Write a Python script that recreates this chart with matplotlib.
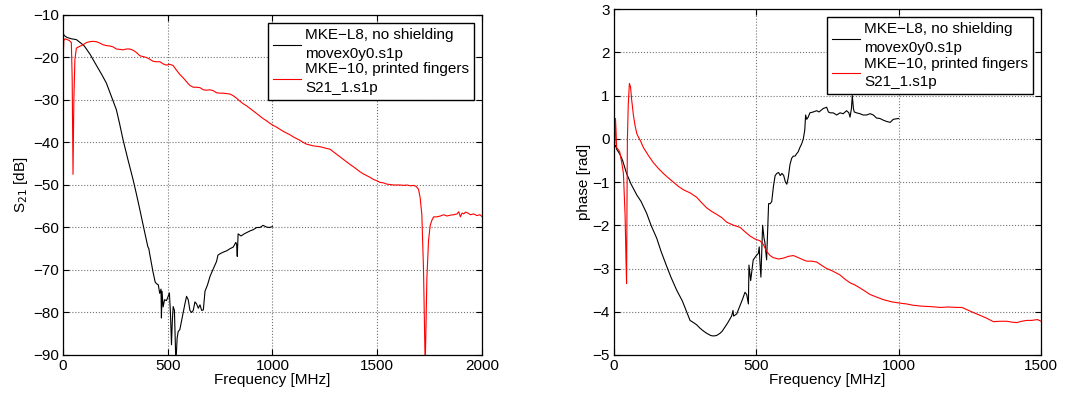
import numpy as np
import matplotlib
matplotlib.use("Agg")
import matplotlib.pyplot as plt

plt.rcParams['font.family'] = ['Liberation Sans', 'DejaVu Sans']
plt.rcParams['xtick.direction'] = 'in'
plt.rcParams['ytick.direction'] = 'in'

# legend labels
label_l8 = "MKE\u2212L8, no shielding\nmovex0y0.s1p"
label_10 = "MKE\u221210, printed fingers\nS21_1.s1p"

# S21 magnitude, MKE-L8 (black)
mag_l8_f = [0, 5, 20, 40, 64, 80, 100, 112, 130, 159, 185, 207, 230, 255, 270, 287, 310, 335, 350, 367,
            383, 398, 405, 410, 414, 430, 440, 446, 455, 462, 468, 470, 473, 478, 485, 494, 500, 508, 513,
            518, 522, 526, 532, 539, 545, 550, 558, 566, 574, 582, 590, 598, 606, 614, 622, 630, 638, 646,
            654, 662, 670, 678, 690, 702, 715, 733, 740, 749, 765, 781, 797, 813, 825, 829, 832, 836, 850,
            865, 877, 893, 909, 925, 940, 955, 972, 985, 1000]
mag_l8_db = [-14.0, -14.8, -15.3, -15.6, -15.8, -16.4, -17.2, -18.0, -19.3, -21.8, -24.0, -26.0, -29.0,
             -32.3, -35.5, -39.4, -44.0, -48.8, -52.0, -55.8, -59.5, -62.9, -64.5, -65.0, -66.2, -70.5,
             -72.8, -73.2, -73.5, -75.5, -74.5, -81.3, -75.0, -78.7, -77.0, -77.2, -76.5, -75.4, -80.0,
             -87.6, -82.0, -78.6, -79.5, -92.0, -86.0, -84.5, -84.0, -82.0, -80.0, -78.0, -76.2, -77.0,
             -79.5, -80.0, -79.5, -77.5, -78.0, -79.0, -78.2, -79.5, -79.4, -75.0, -73.5, -71.5, -70.0,
             -68.0, -66.5, -66.2, -65.8, -65.5, -65.0, -64.6, -63.5, -64.0, -66.8, -61.5, -62.0, -61.5,
             -61.2, -60.8, -60.5, -60.0, -60.0, -59.5, -59.9, -60.0, -59.8]

# S21 magnitude, MKE-10 (red)
mag_10_f = [0, 2, 4, 10, 20, 30, 40, 44, 48, 52, 57, 64, 75, 96, 112, 127, 143, 160, 175, 191, 207, 223,
            239, 255, 271, 287, 303, 319, 335, 350, 367, 383, 398, 414, 430, 446, 462, 478, 494, 510, 526,
            542, 558, 574, 590, 606, 622, 638, 654, 670, 685, 701, 717, 733, 749, 765, 781, 797, 813, 829,
            845, 861, 877, 893, 909, 925, 940, 956, 972, 988, 1004, 1020, 1036, 1052, 1068, 1084, 1100,
            1116, 1131, 1147, 1163, 1179, 1195, 1211, 1227, 1243, 1259, 1275, 1291, 1307, 1323, 1339,
            1355, 1371, 1386, 1402, 1418, 1434, 1450, 1466, 1482, 1498, 1514, 1530, 1546, 1562, 1578,
            1594, 1610, 1626, 1642, 1658, 1673, 1685, 1697, 1705, 1713, 1721, 1729, 1737, 1745, 1753,
            1761, 1769, 1785, 1801, 1817, 1833, 1849, 1865, 1881, 1889, 1897, 1905, 1913, 1921, 1929,
            1945, 1960, 1976, 1990, 2000]
mag_10_db = [-15.5, -18.8, -16.0, -15.6, -15.8, -16.0, -16.5, -25.0, -47.5, -30.0, -20.5, -17.8, -17.5,
             -17.0, -16.5, -16.3, -16.2, -16.3, -16.6, -17.0, -17.2, -17.3, -17.5, -18.0, -18.1, -18.2,
             -18.0, -18.0, -18.3, -18.8, -19.6, -19.8, -20.0, -20.4, -20.9, -21.0, -21.0, -21.5, -21.8,
             -21.6, -21.9, -23.0, -24.0, -24.8, -25.7, -26.6, -27.0, -27.0, -27.1, -27.6, -27.7, -27.6,
             -27.8, -28.3, -28.4, -28.4, -28.5, -28.6, -29.0, -29.6, -30.3, -30.9, -31.4, -32.0, -32.6,
             -33.2, -33.8, -34.4, -34.9, -35.5, -36.0, -36.4, -36.9, -37.4, -37.8, -38.2, -38.7, -39.1,
             -39.5, -40.0, -40.4, -40.6, -40.8, -40.9, -41.0, -41.2, -41.4, -41.6, -42.2, -42.8, -43.4,
             -44.0, -44.6, -45.2, -45.7, -46.3, -46.9, -47.4, -47.8, -48.2, -48.7, -49.0, -49.4, -49.5,
             -49.8, -49.9, -50.0, -50.0, -50.0, -50.1, -50.0, -50.2, -50.1, -50.3, -51.0, -53.0, -57.0,
             -70.0, -93.0, -72.0, -63.0, -59.5, -58.3, -57.5, -57.5, -57.3, -57.0, -57.3, -57.1, -57.0,
             -56.8, -56.3, -57.5, -56.6, -56.8, -56.4, -56.5, -57.0, -56.8, -57.2, -57.0, -57.4]

# phase, MKE-L8 (black)
ph_l8_f = [0, 5, 10, 20, 30, 44, 60, 80, 95, 115, 130, 150, 165, 185, 200, 220, 240, 255, 267, 279, 290,
           302, 315, 326, 340, 349, 360, 372, 380, 390, 400, 413, 418, 420, 431, 443, 452, 460, 466, 472,
           474, 480, 489, 500, 507, 510, 513, 516, 522, 527, 530, 536, 543, 549, 554, 560, 566, 572, 578,
           584, 590, 596, 602, 607, 612, 618, 624, 630, 636, 641, 647, 653, 659, 665, 670, 673, 677, 682,
           688, 700, 712, 720, 735, 747, 753, 760, 770, 782, 794, 805, 817, 825, 829, 834, 837, 841, 844,
           852, 864, 875, 887, 900, 911, 922, 934, 946, 958, 970, 981, 990, 1000]
ph_l8_rad = [-0.2, -0.15, -0.25, -0.35, -0.5, -0.8, -1.05, -1.3, -1.45, -1.73, -2.0, -2.3, -2.6, -2.95,
             -3.2, -3.5, -3.75, -4.0, -4.2, -4.25, -4.3, -4.38, -4.45, -4.5, -4.55, -4.56, -4.55, -4.5,
             -4.45, -4.35, -4.25, -4.1, -3.97, -4.1, -4.05, -3.85, -3.7, -3.55, -3.6, -3.82, -2.92, -3.28,
             -2.8, -2.7, -2.65, -2.5, -2.9, -3.2, -2.0, -2.3, -2.4, -2.8, -1.5, -1.5, -1.45, -1.1, -0.85,
             -0.8, -0.78, -0.85, -0.8, -0.85, -1.0, -1.05, -0.9, -0.6, -0.45, -0.4, -0.4, -0.35, -0.3,
             -0.2, -0.12, 0.0, 0.2, 0.55, 0.45, 0.5, 0.6, 0.62, 0.65, 0.62, 0.7, 0.73, 0.62, 0.6, 0.6,
             0.55, 0.6, 0.58, 0.65, 0.6, 0.5, 0.7, 1.0, 0.7, 0.62, 0.6, 0.58, 0.55, 0.55, 0.58, 0.55,
             0.48, 0.47, 0.43, 0.4, 0.38, 0.45, 0.46, 0.47]

# phase, MKE-10 (red)
ph_10_f = [0, 3, 5, 7, 9, 15, 20, 27, 33, 39, 42, 44, 46, 47, 50, 54, 58, 62, 68, 74, 80, 85, 93, 103, 120,
           138, 155, 173, 190, 208, 226, 244, 267, 290, 308, 326, 343, 361, 378, 396, 420, 443, 460, 478,
           496, 513, 525, 536, 548, 560, 578, 595, 612, 630, 648, 665, 677, 695, 712, 730, 747, 765, 780,
           794, 812, 829, 846, 864, 881, 899, 922, 946, 975, 1004, 1028, 1051, 1080, 1110, 1145, 1175,
           1204, 1222, 1239, 1256, 1274, 1292, 1309, 1321, 1333, 1356, 1380, 1397, 1415, 1432, 1450,
           1468, 1487, 1500]
ph_10_rad = [-0.2, -0.1, 0.47, 0.2, -0.2, -0.25, -0.3, -0.55, -0.8, -1.8, -2.8, -3.35, -1.0, 0.0, 0.8,
             1.28, 1.2, 0.9, 0.55, 0.3, 0.12, 0.05, -0.05, -0.2, -0.38, -0.55, -0.68, -0.8, -0.9, -1.0,
             -1.1, -1.18, -1.25, -1.35, -1.48, -1.6, -1.68, -1.75, -1.82, -1.93, -2.0, -2.05, -2.15,
             -2.25, -2.32, -2.36, -2.45, -2.6, -2.7, -2.75, -2.78, -2.76, -2.72, -2.7, -2.75, -2.8, -2.83,
             -2.83, -2.85, -2.93, -3.0, -3.05, -3.1, -3.15, -3.25, -3.33, -3.38, -3.45, -3.52, -3.6,
             -3.66, -3.72, -3.77, -3.8, -3.82, -3.85, -3.87, -3.88, -3.9, -3.89, -3.9, -3.9, -3.95, -4.0,
             -4.05, -4.1, -4.15, -4.19, -4.23, -4.22, -4.22, -4.24, -4.25, -4.22, -4.2, -4.2, -4.18, -4.22]

fig = plt.figure(figsize=(10.78, 3.94), dpi=100)
ax1 = fig.add_axes([0.0584, 0.099, 0.3887, 0.863])
ax2 = fig.add_axes([0.5696, 0.099, 0.3961, 0.878])

fs = 11


def style(ax):
    ax.grid(True, linestyle=':', color='0.45', linewidth=0.8)
    ax.tick_params(which='both', top=True, right=True, labelsize=fs, length=4, width=0.8, pad=3)
    for sp in ax.spines.values():
        sp.set_linewidth(0.9)
    leg = ax.legend(loc='upper right', fontsize=fs, fancybox=False, framealpha=1,
                    edgecolor='black', handlelength=1.85, borderaxespad=0.55,
                    labelspacing=0.1, handletextpad=0.25, borderpad=0.3)
    leg.get_frame().set_linewidth(1.0)
    for t in leg.get_texts():
        t.set_linespacing(1.45)


# Left: S21 magnitude
ax1.plot(mag_l8_f, mag_l8_db, color='black', lw=0.8, label=label_l8)
ax1.plot(mag_10_f, mag_10_db, color='red', lw=0.8, label=label_10)
ax1.set_xlim(0, 2000)
ax1.set_ylim(-90, -10)
ax1.set_xticks([0, 500, 1000, 1500, 2000])
ax1.set_yticks(np.arange(-90, -9, 10))
ax1.set_xlabel('Frequency [MHz]', fontsize=fs, labelpad=0)
ax1.set_ylabel('S$_{21}$ [dB]', fontsize=fs, labelpad=2)
style(ax1)

# Right: phase
ax2.plot(ph_l8_f, ph_l8_rad, color='black', lw=0.8, label=label_l8)
ax2.plot(ph_10_f, ph_10_rad, color='red', lw=0.8, label=label_10)
ax2.set_xlim(0, 1500)
ax2.set_ylim(-5, 3)
ax2.set_xticks([0, 500, 1000, 1500])
ax2.set_yticks(np.arange(-5, 4, 1))
ax2.set_xlabel('Frequency [MHz]', fontsize=fs, labelpad=0)
ax2.set_ylabel('phase [rad]', fontsize=fs, labelpad=1)
style(ax2)

fig.savefig('out.png', dpi=100)
